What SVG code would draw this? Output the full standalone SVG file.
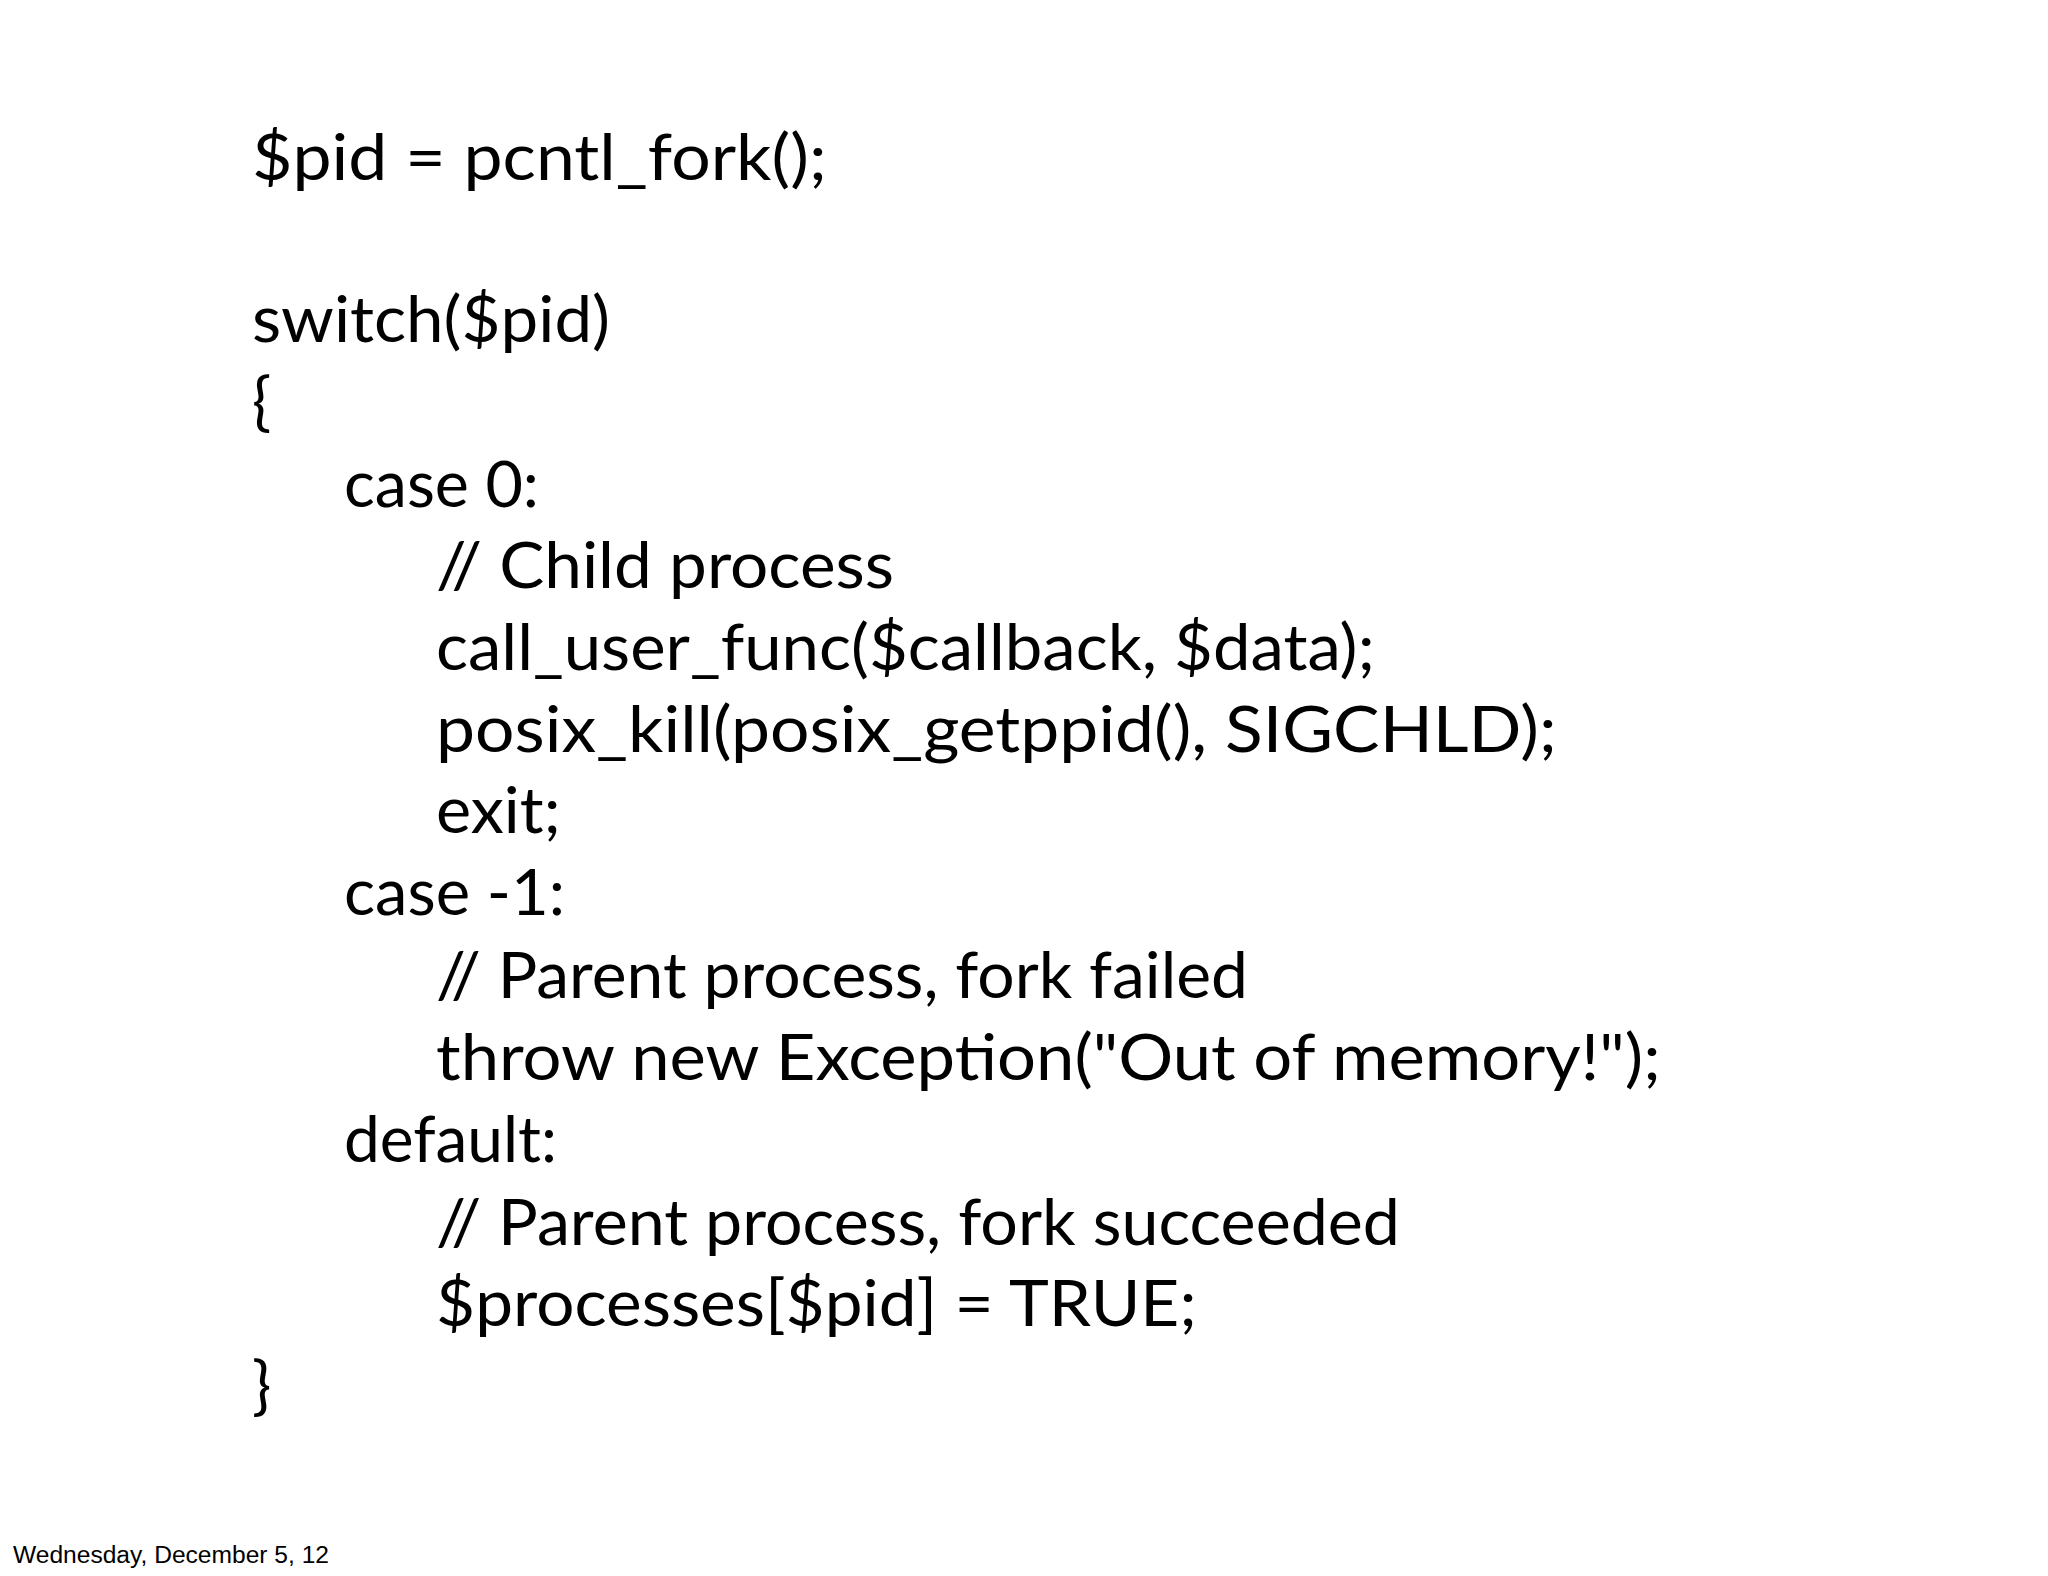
<svg xmlns="http://www.w3.org/2000/svg" width="2048" height="1576" viewBox="0 0 2048 1576">
<style>
.c{font-family:Lato,"Open Sans",sans-serif;font-size:64px;fill:#000}
.f{font-family:"Liberation Sans",Arial,sans-serif;font-size:23px;fill:#000}
</style>
<rect width="2048" height="1576" fill="#fff"/>
<g id="code">
<text class="c" x="252" y="180" textLength="575" lengthAdjust="spacingAndGlyphs">$pid = pcntl_fork();</text>
<text class="c" x="252" y="342" textLength="358" lengthAdjust="spacingAndGlyphs">switch($pid)</text>
<text class="c" x="252" y="424">{</text>
<text class="c" x="344" y="507" textLength="195" lengthAdjust="spacingAndGlyphs">case 0:</text>
<text class="c" x="436" y="588" textLength="458" lengthAdjust="spacingAndGlyphs">// Child process</text>
<text class="c" x="436" y="670" textLength="939" lengthAdjust="spacingAndGlyphs">call_user_func($callback, $data);</text>
<text class="c" x="436" y="752" textLength="1121" lengthAdjust="spacingAndGlyphs">posix_kill(posix_getppid(), SIGCHLD);</text>
<text class="c" x="436" y="833" textLength="125" lengthAdjust="spacingAndGlyphs">exit;</text>
<text class="c" x="344" y="915" textLength="221" lengthAdjust="spacingAndGlyphs">case -1:</text>
<text class="c" x="436" y="998" textLength="812" lengthAdjust="spacingAndGlyphs">// Parent process, fork failed</text>
<text class="c" x="436" y="1080" textLength="1225" lengthAdjust="spacingAndGlyphs">throw new Exception("Out of memory!");</text>
<text class="c" x="344" y="1162" textLength="213" lengthAdjust="spacingAndGlyphs">default:</text>
<text class="c" x="436" y="1245" textLength="964" lengthAdjust="spacingAndGlyphs">// Parent process, fork succeeded</text>
<text class="c" x="436" y="1326" textLength="761" lengthAdjust="spacingAndGlyphs">$processes[$pid] = TRUE;</text>
<text class="c" x="252" y="1408">}</text>
</g>
<text class="f" x="13" y="1563" textLength="316" lengthAdjust="spacingAndGlyphs">Wednesday, December 5, 12</text>
</svg>
